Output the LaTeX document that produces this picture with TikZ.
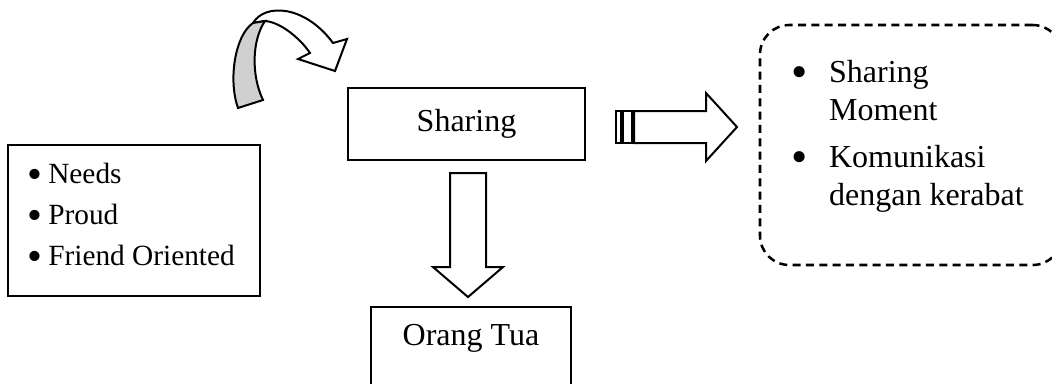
\documentclass[tikz,border=0pt]{standalone}
\usepackage{fontspec}
\setmainfont{Liberation Serif}
\usepackage{tikz}
\usetikzlibrary{positioning}
\definecolor{bandgray}{HTML}{D0D0D0}
\newcommand{\bigbullet}{\raisebox{-0.4ex}{\scalebox{1.45}{\textbullet}}}

\begin{document}
\begin{tikzpicture}[
  x=0.375pt, y=-0.375pt,
  font=\fontsize{12}{14.25}\selectfont,
  plainbox/.style={draw, line width=0.75pt, inner sep=0pt},
  softbox/.style={draw, line width=0.95pt, dash pattern=on 3pt off 2pt, rounded corners=11pt, inner sep=0pt},
  blockarrow/.style={draw, fill=white, line width=0.75pt, line join=miter},
  listtext/.style={anchor=base west, inner sep=0pt},
]
\useasboundingbox (0,0) rectangle (1052,383);

% ---------------- boxes
\node[plainbox, minimum width=88.9pt, minimum height=27pt] (sharing) at (466.5,124) {Sharing};
\node[plainbox, minimum width=94.5pt, minimum height=56.6pt] (motives) at (134,220.5) {};
\node[plainbox, anchor=north, minimum width=75pt, minimum height=45pt] (orangtua) at (471,306) {};
\node[inner sep=0pt] (orangtuatext) at (471,338) {Orang Tua};
\node[softbox, minimum width=113.25pt, minimum height=90pt] (moments) at (911,145) {};

% ---------------- bullet lists
\node[listtext] (motlist) at (27,183)
  {\fontsize{11}{15.4}\selectfont
   \begin{tabular}[t]{@{}l@{\hspace{2.2pt}}l@{}}
     \bigbullet & Needs\\
     \bigbullet & Proud\\
     \bigbullet & Friend Oriented
   \end{tabular}};
\node[listtext] (momlist) at (791,82)
  {\begin{tabular}[t]{@{}l@{\hspace{8pt}}l@{}}
     \bigbullet & Sharing\\
                & Moment\\[3.4pt]
     \bigbullet & Komunikasi\\
                & dengan kerabat
   \end{tabular}};

% ---------------- block arrows
% curved arrow over the left box
\draw[blockarrow] (253,23) .. controls (265,3) and (305,5) .. (333,43)
  -- (347,39) -- (335,71) -- (298,59) -- (310,53)
  .. controls (300,38) and (280,22) .. (265,21) -- cycle;
\draw[blockarrow, fill=bandgray] (253,23) .. controls (235,35) and (228,80) .. (238,108)
  -- (263,100) .. controls (251,75) and (252,40) .. (265,21) -- cycle;

% striped arrow to the dashed box
\foreach \xa/\xb in {616/621, 623/632}
  \draw[blockarrow] (\xa,111) rectangle (\xb,143);
\draw[blockarrow] (634,111) -- (706,111) -- (706,93) -- (737,127)
  -- (706,161) -- (706,143) -- (634,143) -- cycle;

% down arrow to Orang Tua
\draw[blockarrow] (450,173) -- (486,173) -- (486,267) -- (503,267)
  -- (468,297) -- (433,267) -- (450,267) -- cycle;

\end{tikzpicture}
\end{document}
